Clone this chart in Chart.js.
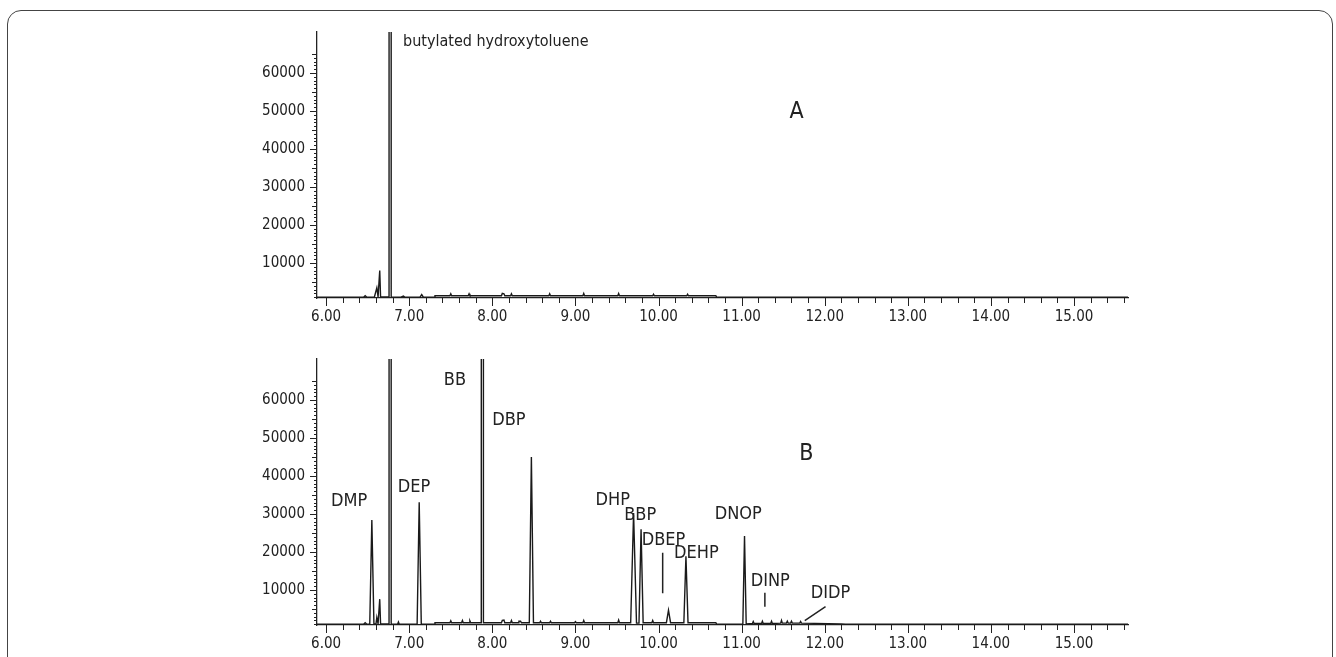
<!DOCTYPE html>
<html>
<head>
<meta charset="utf-8">
<script src="https://cdn.jsdelivr.net/npm/chart.js@4.4.1/dist/chart.umd.min.js"></script>
<style>
  body { margin: 0; background: #fff; width: 1336px; height: 657px; overflow: hidden; position: relative; }
  #frame { position: absolute; left: 7px; top: 10px; width: 1326px; height: 720px; border: 1.5px solid #444; border-radius: 14px; box-sizing: border-box; }
  canvas { position: absolute; left: 0; }
  #chartA { top: 0; }
  #chartB { top: 327px; }
</style>
</head>
<body>
<div id="frame"></div>
<canvas id="chartA" width="1336" height="330"></canvas>
<canvas id="chartB" width="1336" height="330"></canvas>
<script>
const FONT = "'Liberation Sans Narrow', 'DejaVu Sans Condensed', sans-serif";

// trace A: retention time (min) and abundance
const timesA = [5.89, 6.45, 6.47, 6.49, 6.58, 6.61, 6.625, 6.635, 6.645, 6.655, 6.757, 6.77, 6.783,
  6.90, 6.93, 6.95, 7.13, 7.15, 7.17, 7.30, 7.31, 7.49, 7.50, 7.51, 7.71, 7.72, 7.73,
  8.11, 8.12, 8.14, 8.15, 8.22, 8.23, 8.24, 8.68, 8.69, 8.70, 9.09, 9.10, 9.11,
  9.51, 9.52, 9.53, 9.93, 9.94, 9.95, 10.34, 10.35, 10.36, 10.69, 10.70, 15.65];
const countsA = [1000, 1000, 1400, 1000, 1000, 3500, 1100, 1100, 8000, 1100, 1100, 3000000, 1100,
  1000, 1300, 1000, 1000, 1700, 1000, 1000, 1400, 1400, 1900, 1400, 1400, 1900, 1400,
  1400, 2000, 1900, 1400, 1400, 1900, 1400, 1400, 1900, 1400, 1400, 2000, 1400,
  1400, 2000, 1400, 1400, 1800, 1400, 1400, 1800, 1400, 1400, 1000, 1000];

// trace B: retention time (min) and abundance
const timesB = [5.89, 6.45, 6.47, 6.49, 6.525, 6.55, 6.575, 6.60, 6.61, 6.625, 6.635, 6.645, 6.655,
  6.757, 6.77, 6.783, 6.86, 6.87, 6.88, 7.095, 7.12, 7.145, 7.30, 7.31, 7.49, 7.50, 7.51,
  7.63, 7.64, 7.65, 7.72, 7.73, 7.74, 7.867, 7.88, 7.893, 8.11, 8.12, 8.14, 8.15,
  8.22, 8.23, 8.24, 8.31, 8.32, 8.34, 8.35, 8.445, 8.47, 8.495, 8.57, 8.58, 8.59,
  8.69, 8.70, 8.71, 8.99, 9.00, 9.01, 9.09, 9.10, 9.11, 9.51, 9.52, 9.53,
  9.665, 9.70, 9.735, 9.765, 9.79, 9.815, 9.92, 9.93, 9.94, 10.095, 10.12, 10.145,
  10.305, 10.33, 10.355, 10.69, 10.70, 11.015, 11.035, 11.055, 11.13, 11.14, 11.15,
  11.24, 11.25, 11.26, 11.35, 11.36, 11.37, 11.47, 11.48, 11.49, 11.54, 11.55, 11.56,
  11.59, 11.60, 11.61, 11.70, 11.71, 11.72, 12.20, 12.25, 15.65];
const countsB = [1000, 1000, 1400, 1000, 1100, 28400, 1100, 1100, 2800, 1100, 1100, 7600, 1100,
  1100, 3000000, 1100, 1000, 1600, 1000, 1000, 33100, 1000, 1000, 1400, 1400, 1900, 1400,
  1400, 2000, 1400, 1400, 1900, 1400, 1400, 3000000, 1400, 1400, 2000, 2100, 1400,
  1400, 2000, 1400, 1400, 1800, 1800, 1400, 1400, 45000, 1400, 1400, 1800, 1400,
  1400, 1800, 1400, 1400, 1700, 1400, 1400, 2000, 1400, 1400, 2100, 1400,
  1400, 30300, 1300, 1300, 26000, 1400, 1400, 2000, 1400, 1400, 4700, 1400,
  1400, 18900, 1400, 1400, 1000, 1000, 24200, 1100, 1200, 1700, 1200,
  1200, 1800, 1200, 1200, 1800, 1200, 1300, 2000, 1300, 1300, 1800, 1300,
  1300, 1800, 1300, 1300, 1700, 1300, 1100, 1000, 1000];

const xTickLabels = ["6.00", "7.00", "8.00", "9.00", "10.00", "11.00", "12.00", "13.00", "14.00", "15.00"];
const yTickLabels = ["10000", "20000", "30000", "40000", "50000", "60000"];

// peak names, placed in data coordinates
const namesA = ["butylated hydroxytoluene", "A"];
const nameTimesA = [6.925, 11.66];
const nameCountsA = [68250, 49750];

const namesB = ["DMP", "DEP", "BB", "DBP", "DHP", "BBP", "DBEP", "DEHP", "DNOP", "DINP", "DIDP", "B"];
const nameTimesB = [6.276, 7.058, 7.55, 8.20, 9.45, 9.78, 10.06, 10.455, 10.96, 11.345, 12.07, 11.78];
const nameCountsB = [33430, 37115, 65270, 54750, 33510, 29750, 23170, 19750, 30010, 12380, 9220, 45800];

// leader lines [t1, c1, t2, c2]
const leadersB = [[10.05, 19830, 10.05, 9140], [11.28, 9300, 11.28, 5620], [12.01, 5620, 11.76, 1930]];

function toPoints(xs, ys) {
    return xs.map((x, i) => ({ x: x, y: ys[i] }));
}

function notesPlugin(names, times, counts, leaders) {
    return {
        id: "notes",
        afterDraw(chart) {
            const { ctx, scales: { x, y } } = chart;
            ctx.save();
            ctx.strokeStyle = "#222";
            ctx.lineWidth = 1;
            ctx.beginPath();
            // tick marks: long at whole minutes / 10000, short otherwise
            x.ticks.forEach(t => {
                const px = Math.round(x.getPixelForValue(t.value)) + 0.5;
                const len = Math.abs(t.value - Math.round(t.value)) < 1e-6 ? 8 : 5;
                ctx.moveTo(px, x.top);
                ctx.lineTo(px, x.top + len);
            });
            y.ticks.forEach(t => {
                const py = Math.round(y.getPixelForValue(t.value)) + 0.5;
                const len = t.value % 10000 === 0 ? 7 : (t.value % 5000 === 0 ? 5 : 3);
                ctx.moveTo(y.right - len, py);
                ctx.lineTo(y.right, py);
            });
            ctx.stroke();

            ctx.lineWidth = 1.5;
            ctx.beginPath();
            leaders.forEach(l => {
                ctx.moveTo(x.getPixelForValue(l[0]), y.getPixelForValue(l[1]));
                ctx.lineTo(x.getPixelForValue(l[2]), y.getPixelForValue(l[3]));
            });
            ctx.stroke();

            ctx.fillStyle = "#222";
            ctx.textBaseline = "middle";
            names.forEach((n, i) => {
                const big = n.length === 1;
                const long = n.length > 6;
                ctx.font = (big ? 23 : long ? 16 : 18) + "px " + FONT;
                ctx.textAlign = long ? "left" : "center";
                ctx.fillText(n, x.getPixelForValue(times[i]), y.getPixelForValue(counts[i]));
            });
            ctx.restore();
        }
    };
}

function makeChart(id, times, counts, names, nameTimes, nameCounts, leaders) {
    return new Chart(document.getElementById(id), {
        type: "line",
        data: {
            datasets: [{
                data: toPoints(times, counts),
                borderColor: "#1a1a1a",
                borderWidth: 1.4,
                pointRadius: 0,
                tension: 0,
                fill: false
            }]
        },
        options: {
            responsive: false,
            animation: false,
            layout: { padding: { top: 32, right: 208, bottom: 2, left: 0 } },
            plugins: { legend: { display: false }, tooltip: { enabled: false } },
            scales: {
                x: {
                    type: "linear",
                    min: 5.89,
                    max: 15.65,
                    afterBuildTicks: s => {
                        const ticks = [];
                        for (let i = 30; i <= 78; i++) ticks.push({ value: i / 5 });
                        s.ticks = ticks;
                    },
                    afterFit: s => { s.height = 30; },
                    grid: { drawOnChartArea: false, drawTicks: false },
                    border: { color: "#222", width: 1.3 },
                    ticks: {
                        padding: 10,
                        maxRotation: 0,
                        autoSkip: false,
                        color: "#222",
                        font: { family: FONT, size: 15 },
                        callback: v => xTickLabels.find(l => Math.abs(parseFloat(l) - v) < 1e-6) || ""
                    }
                },
                y: {
                    min: 800,
                    max: 70800,
                    afterBuildTicks: s => {
                        const ticks = [];
                        for (let i = 1; i <= 65; i++) ticks.push({ value: i * 1000 });
                        s.ticks = ticks;
                    },
                    afterFit: s => { s.width = 317; },
                    grid: { drawOnChartArea: false, drawTicks: false },
                    border: { color: "#222", width: 1.3 },
                    ticks: {
                        padding: 12,
                        autoSkip: false,
                        color: "#222",
                        font: { family: FONT, size: 15 },
                        callback: v => yTickLabels.includes(String(v)) ? String(v) : ""
                    }
                }
            }
        },
        plugins: [notesPlugin(names, nameTimes, nameCounts, leaders)]
    });
}

makeChart("chartA", timesA, countsA, namesA, nameTimesA, nameCountsA, []);
makeChart("chartB", timesB, countsB, namesB, nameTimesB, nameCountsB, leadersB);
</script>
</body>
</html>
